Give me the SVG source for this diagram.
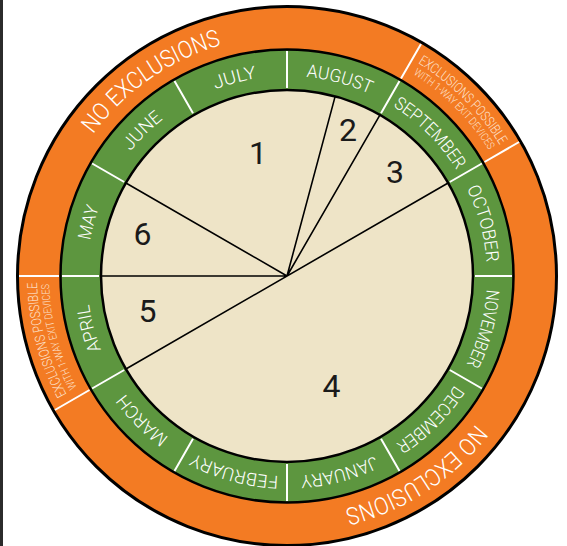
<svg xmlns="http://www.w3.org/2000/svg" xmlns:xlink="http://www.w3.org/1999/xlink" width="567" height="546" viewBox="0 0 567 546">
<style>
.ring-o{fill:#f37b23;stroke:#000;stroke-width:3}
.ring-g{fill:#5d963f;stroke:#000;stroke-width:2.5}
.pie{fill:#eee4c7;stroke:#000;stroke-width:2.5}
.div{stroke:#fff;stroke-width:2;fill:none}
.cut{stroke:#000;stroke-width:1.6;fill:none}
.m{font-family:Roboto,"Liberation Sans",sans-serif;font-weight:300;font-size:18px;fill:#fff}
.nx{font-family:Roboto,"Liberation Sans",sans-serif;font-weight:300;font-size:24px;fill:#fff}
.e1{font-family:Roboto,"Liberation Sans",sans-serif;font-weight:300;font-size:14px;fill:#fde0cb}
.e2{font-family:Roboto,"Liberation Sans",sans-serif;font-weight:300;font-size:11px;fill:#fde0cb}
.n{font-family:Roboto,"Liberation Sans",sans-serif;font-size:32px;fill:#1a1a1a;text-anchor:middle}
</style>
<defs>
<path id="p200" d="M0,-200A200,200 0 1,1 0,200A200,200 0 1,1 0,-200"/>
<path id="p240" d="M0,-240A240,240 0 1,1 0,240A240,240 0 1,1 0,-240"/>
<path id="p250" d="M0,-250A250,250 0 1,1 0,250A250,250 0 1,1 0,-250"/>
<path id="p238" d="M0,-238A238,238 0 1,1 0,238A238,238 0 1,1 0,-238"/>
</defs>
<rect x="0" y="0" width="3" height="546" fill="#2b2b2b"/>
<g transform="translate(287,276)">
<g id="rings">
<circle class="ring-o" r="269.5"/>
<circle class="ring-g" r="226.5"/>
<circle class="pie" r="186"/>
</g>
<g id="connectors">
<path class="cut" d="M0,0L-161.08,-93M0,0L-186,0M0,0L48.14,-179.66M0,0L93,-161.08M161.08,-93L-161.08,93"/>
<path class="div" d="M0,-188L0,-225M94,-162.8L112.5,-194.9M162.8,-94L194.9,-112.5M188,0L225,0M162.8,94L194.9,112.5M94,162.8L112.5,194.9M0,188L0,225M-94,162.8L-112.5,194.9M-162.8,94L-194.9,112.5M-188,0L-225,0M-162.8,-94L-194.9,-112.5M-94,-162.8L-112.5,-194.9"/>
<path class="div" d="M114,-197.5L134,-232.1M197.5,-114L232.1,-134M-197.5,114L-232.1,134M-228,0L-268,0"/>
</g>
<g id="months" text-anchor="middle">
<g id="m-aug"><text class="m"><textPath xlink:href="#p200" startOffset="52.4" textLength="66" lengthAdjust="spacingAndGlyphs">AUGUST</textPath></text></g>
<g id="m-sep"><text class="m"><textPath xlink:href="#p200" startOffset="157.1" textLength="91" lengthAdjust="spacingAndGlyphs">SEPTEMBER</textPath></text></g>
<g id="m-oct"><text class="m"><textPath xlink:href="#p200" startOffset="261.8" textLength="77" lengthAdjust="spacingAndGlyphs">OCTOBER</textPath></text></g>
<g id="m-nov"><text class="m"><textPath xlink:href="#p200" startOffset="366.5" textLength="78" lengthAdjust="spacingAndGlyphs">NOVEMBER</textPath></text></g>
<g id="m-dec"><text class="m"><textPath xlink:href="#p200" startOffset="471.2" textLength="84" lengthAdjust="spacingAndGlyphs">DECEMBER</textPath></text></g>
<g id="m-jan"><text class="m"><textPath xlink:href="#p200" startOffset="576" textLength="77" lengthAdjust="spacingAndGlyphs">JANUARY</textPath></text></g>
<g id="m-feb"><text class="m"><textPath xlink:href="#p200" startOffset="680.7" textLength="88" lengthAdjust="spacingAndGlyphs">FEBRUARY</textPath></text></g>
<g id="m-mar"><text class="m"><textPath xlink:href="#p200" startOffset="785.4" textLength="62" lengthAdjust="spacingAndGlyphs">MARCH</textPath></text></g>
<g id="m-apr"><text class="m"><textPath xlink:href="#p200" startOffset="890.1" textLength="47" lengthAdjust="spacingAndGlyphs">APRIL</textPath></text></g>
<g id="m-may"><text class="m"><textPath xlink:href="#p200" startOffset="994.8" textLength="34" lengthAdjust="spacingAndGlyphs">MAY</textPath></text></g>
<g id="m-jun"><text class="m"><textPath xlink:href="#p200" startOffset="1099.6" textLength="46" lengthAdjust="spacingAndGlyphs">JUNE</textPath></text></g>
<g id="m-jul"><text class="m"><textPath xlink:href="#p200" startOffset="1204.3" textLength="43" lengthAdjust="spacingAndGlyphs">JULY</textPath></text></g>
</g>
<g id="zones" text-anchor="middle">
<g id="no-excl-top"><text class="nx"><textPath xlink:href="#p240" startOffset="1361.4" textLength="159" lengthAdjust="spacingAndGlyphs">NO EXCLUSIONS</textPath></text></g>
<g id="no-excl-bottom"><text class="nx"><textPath xlink:href="#p240" startOffset="615.8" textLength="159" lengthAdjust="spacingAndGlyphs">NO EXCLUSIONS</textPath></text></g>
<g id="excl-ne">
<text class="e1"><textPath xlink:href="#p250" startOffset="196.3" textLength="117" lengthAdjust="spacingAndGlyphs">EXCLUSIONS POSSIBLE</textPath></text>
<text class="e2"><textPath xlink:href="#p238" startOffset="186.9" textLength="108" lengthAdjust="spacingAndGlyphs">WITH 1-WAY EXIT DEVICES</textPath></text>
</g>
<g id="excl-w">
<text class="e1"><textPath xlink:href="#p250" startOffset="1112.7" textLength="117" lengthAdjust="spacingAndGlyphs">EXCLUSIONS POSSIBLE</textPath></text>
<text class="e2"><textPath xlink:href="#p238" startOffset="1059.2" textLength="108" lengthAdjust="spacingAndGlyphs">WITH 1-WAY EXIT DEVICES</textPath></text>
</g>
</g>
</g>
<g id="regions">
<g id="r1"><text class="n" x="258" y="164">1</text></g>
<g id="r2"><text class="n" x="348" y="141">2</text></g>
<g id="r3"><text class="n" x="395" y="183">3</text></g>
<g id="r4"><text class="n" x="331.5" y="397">4</text></g>
<g id="r5"><text class="n" x="147.5" y="322">5</text></g>
<g id="r6"><text class="n" x="142.5" y="245">6</text></g>
</g>
</svg>
